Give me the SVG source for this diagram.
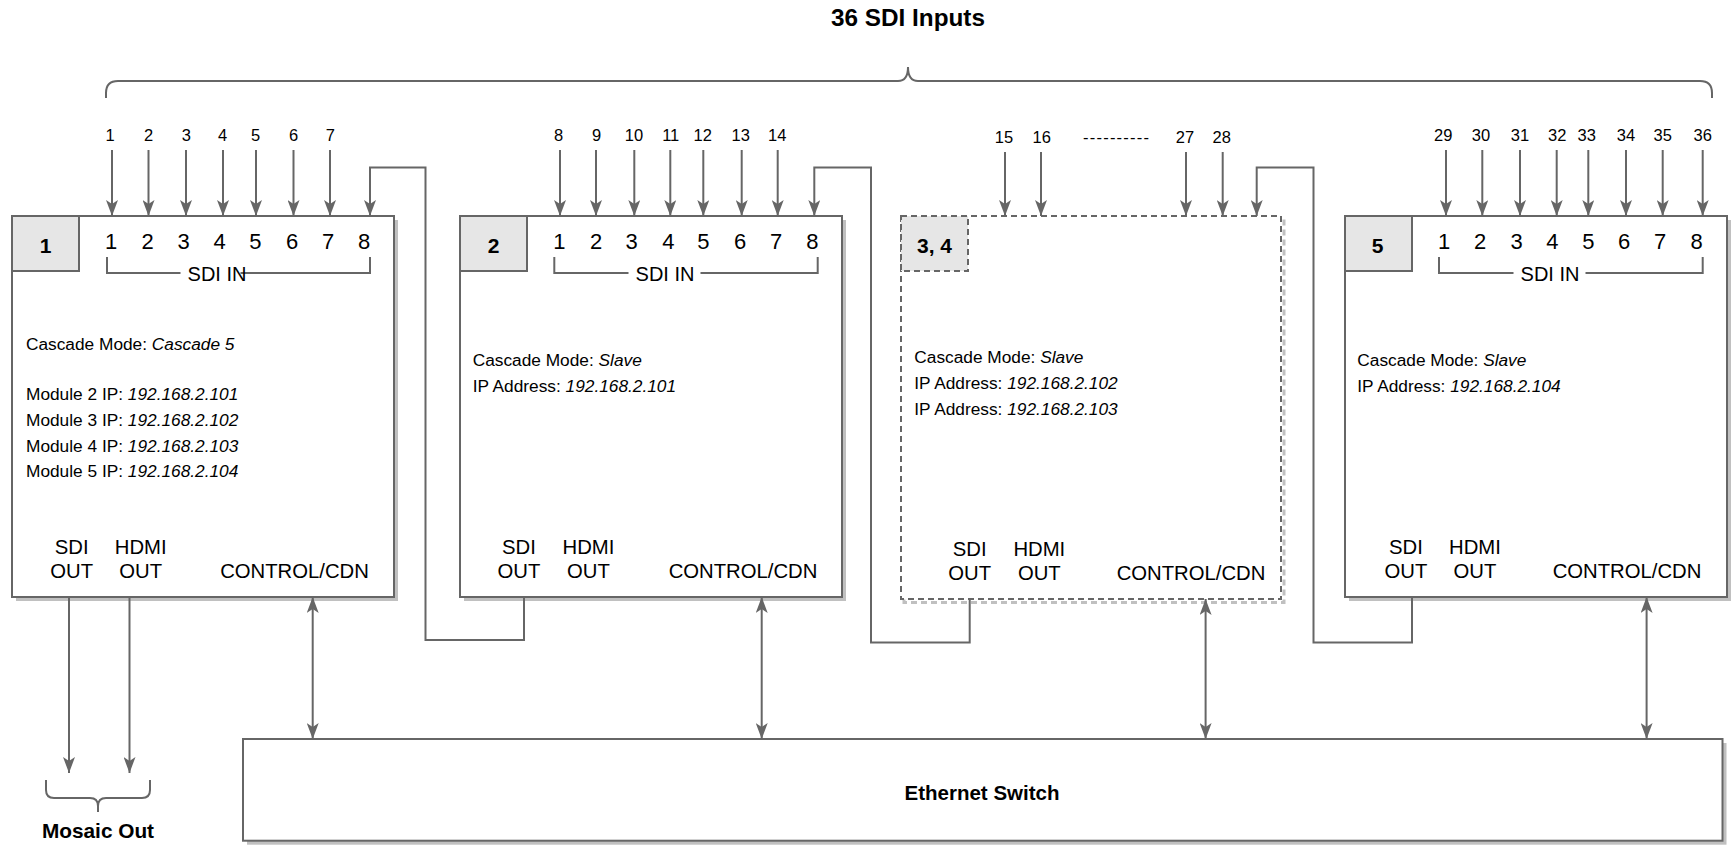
<svg xmlns="http://www.w3.org/2000/svg" width="1731" height="847" viewBox="0 0 1731 847">
<style>
text{font-family:"Liberation Sans",Arial,sans-serif;fill:#000}
.t16{font-size:16.5px;text-anchor:middle}
.port{font-size:22px;text-anchor:middle}
.sdiin{font-size:20px;text-anchor:middle}
.body{font-size:17.3px}
.body tspan.i{font-style:italic}
.lbl{font-size:20.3px;text-anchor:middle}
.num{font-size:21px;font-weight:bold;text-anchor:middle}
.bold{font-weight:bold;text-anchor:middle}
.box{fill:#fff;stroke:#666;stroke-width:2}
.dbox{fill:none;stroke:#666;stroke-width:2;stroke-dasharray:6 4}
.shadow{fill:#c0c0c0}
.dshadow{fill:none;stroke:#c0c0c0;stroke-width:3;stroke-dasharray:6 4}
.tag{fill:#e6e6e6;stroke:#666;stroke-width:2}
.dtag{fill:#e6e6e6;stroke:#666;stroke-width:2;stroke-dasharray:6 4}
.ln{fill:none;stroke:#666;stroke-width:2}
.arr{fill:none;stroke:#666;stroke-width:2;marker-end:url(#ah)}
.darr{fill:none;stroke:#666;stroke-width:2;marker-end:url(#ah);marker-start:url(#ah)}
</style>
<defs>
<marker id="ah" viewBox="0 0 16 12" refX="16" refY="6" markerWidth="16" markerHeight="12" markerUnits="userSpaceOnUse" orient="auto-start-reverse">
<path d="M0,0 L16,6 L0,12 L4,6 z" fill="#666"/>
</marker>
</defs>

<g id="title">
<text x="908" y="26" class="bold" font-size="24.3">36 SDI Inputs</text>
<path class="ln" d="M106,98 V93 Q106,81 118,81 H898 Q908,81 908,67 Q908,81 918,81 H1700 Q1712,81 1712,93 V98"/>
</g>

<g id="input-labels">
<text class="t16" x="110" y="141">1</text>
<text class="t16" x="148.5" y="141">2</text>
<text class="t16" x="186.4" y="141">3</text>
<text class="t16" x="222.7" y="141">4</text>
<text class="t16" x="255.6" y="141">5</text>
<text class="t16" x="293.5" y="141">6</text>
<text class="t16" x="330.3" y="141">7</text>
<text class="t16" x="558.7" y="141">8</text>
<text class="t16" x="596.7" y="141">9</text>
<text class="t16" x="634" y="141">10</text>
<text class="t16" x="670.7" y="141">11</text>
<text class="t16" x="702.7" y="141">12</text>
<text class="t16" x="740.7" y="141">13</text>
<text class="t16" x="777.3" y="141">14</text>
<text class="t16" x="1004" y="143">15</text>
<text class="t16" x="1041.7" y="143">16</text>
<text class="t16" x="1116" y="143" textLength="66" lengthAdjust="spacing">----------</text>
<text class="t16" x="1185" y="143">27</text>
<text class="t16" x="1221.7" y="143">28</text>
<text class="t16" x="1443.3" y="141">29</text>
<text class="t16" x="1481" y="141">30</text>
<text class="t16" x="1520" y="141">31</text>
<text class="t16" x="1557.3" y="141">32</text>
<text class="t16" x="1586.7" y="141">33</text>
<text class="t16" x="1626" y="141">34</text>
<text class="t16" x="1662.7" y="141">35</text>
<text class="t16" x="1702.7" y="141">36</text>
</g>

<g id="module-1">
<rect class="shadow" x="16" y="220" width="382" height="381"/>
<rect class="box" x="12" y="216" width="382" height="381"/>
<rect class="tag" x="12" y="216" width="67" height="55"/>
<text class="num" x="45.5" y="253">1</text>
<text class="port" x="111" y="249">1</text>
<text class="port" x="147.5" y="249">2</text>
<text class="port" x="183.7" y="249">3</text>
<text class="port" x="219.5" y="249">4</text>
<text class="port" x="255.3" y="249">5</text>
<text class="port" x="292" y="249">6</text>
<text class="port" x="328" y="249">7</text>
<text class="port" x="364" y="249">8</text>
<path class="ln" d="M180.5,273 H107 V257 M240.5,273 H370 V257"/>
<text class="sdiin" x="217" y="281">SDI IN</text>
<text class="body" x="26" y="350">Cascade Mode: <tspan class="i">Cascade 5</tspan></text>
<text class="body" x="26" y="400">Module 2 IP: <tspan class="i">192.168.2.101</tspan></text>
<text class="body" x="26" y="426">Module 3 IP: <tspan class="i">192.168.2.102</tspan></text>
<text class="body" x="26" y="451.5">Module 4 IP: <tspan class="i">192.168.2.103</tspan></text>
<text class="body" x="26" y="477">Module 5 IP: <tspan class="i">192.168.2.104</tspan></text>
<text class="lbl" x="71.7" y="554">SDI</text>
<text class="lbl" x="71.7" y="578">OUT</text>
<text class="lbl" x="140.7" y="554">HDMI</text>
<text class="lbl" x="140.7" y="578">OUT</text>
<text class="lbl" x="294.5" y="578">CONTROL/CDN</text>
</g>

<g id="module-2">
<rect class="shadow" x="464" y="220" width="382" height="381"/>
<rect class="box" x="460" y="216" width="382" height="381"/>
<rect class="tag" x="460" y="216" width="67" height="55"/>
<text class="num" x="493.5" y="253">2</text>
<text class="port" x="559.3" y="249">1</text>
<text class="port" x="596" y="249">2</text>
<text class="port" x="631.7" y="249">3</text>
<text class="port" x="668.3" y="249">4</text>
<text class="port" x="703.3" y="249">5</text>
<text class="port" x="740" y="249">6</text>
<text class="port" x="776" y="249">7</text>
<text class="port" x="812.3" y="249">8</text>
<path class="ln" d="M628.5,273 H554.3 V257 M700.5,273 H817.7 V257"/>
<text class="sdiin" x="665" y="281">SDI IN</text>
<text class="body" x="472.7" y="365.7">Cascade Mode: <tspan class="i">Slave</tspan></text>
<text class="body" x="472.7" y="391.7">IP Address: <tspan class="i">192.168.2.101</tspan></text>
<text class="lbl" x="519" y="554">SDI</text>
<text class="lbl" x="519" y="578">OUT</text>
<text class="lbl" x="588.4" y="554">HDMI</text>
<text class="lbl" x="588.4" y="578">OUT</text>
<text class="lbl" x="743" y="578">CONTROL/CDN</text>
</g>

<g id="module-3-4">
<rect class="dshadow" x="904" y="219.5" width="380" height="383"/>
<rect fill="#fff" x="901" y="216" width="380" height="383"/>
<rect class="dbox" x="901" y="216" width="380" height="383"/>
<rect class="dtag" x="901" y="216" width="67" height="55"/>
<text class="num" x="934.5" y="253">3, 4</text>
<text class="body" x="914.3" y="363.3">Cascade Mode: <tspan class="i">Slave</tspan></text>
<text class="body" x="914.3" y="389.3">IP Address: <tspan class="i">192.168.2.102</tspan></text>
<text class="body" x="914.3" y="415">IP Address: <tspan class="i">192.168.2.103</tspan></text>
<text class="lbl" x="969.7" y="556">SDI</text>
<text class="lbl" x="969.7" y="580">OUT</text>
<text class="lbl" x="1039.3" y="556">HDMI</text>
<text class="lbl" x="1039.3" y="580">OUT</text>
<text class="lbl" x="1191" y="580">CONTROL/CDN</text>
</g>

<g id="module-5">
<rect class="shadow" x="1349" y="220" width="382" height="381"/>
<rect class="box" x="1345" y="216" width="382" height="381"/>
<rect class="tag" x="1345" y="216" width="67" height="55"/>
<text class="num" x="1377.5" y="253">5</text>
<text class="port" x="1444" y="249">1</text>
<text class="port" x="1480" y="249">2</text>
<text class="port" x="1516.7" y="249">3</text>
<text class="port" x="1552.3" y="249">4</text>
<text class="port" x="1588.3" y="249">5</text>
<text class="port" x="1624" y="249">6</text>
<text class="port" x="1660" y="249">7</text>
<text class="port" x="1696.7" y="249">8</text>
<path class="ln" d="M1513.5,273 H1439 V257 M1585.5,273 H1702.7 V257"/>
<text class="sdiin" x="1550" y="281">SDI IN</text>
<text class="body" x="1357.3" y="366">Cascade Mode: <tspan class="i">Slave</tspan></text>
<text class="body" x="1357.3" y="391.7">IP Address: <tspan class="i">192.168.2.104</tspan></text>
<text class="lbl" x="1406" y="554">SDI</text>
<text class="lbl" x="1406" y="578">OUT</text>
<text class="lbl" x="1475" y="554">HDMI</text>
<text class="lbl" x="1475" y="578">OUT</text>
<text class="lbl" x="1627" y="578">CONTROL/CDN</text>
</g>

<g id="ethernet-switch">
<rect class="shadow" x="247" y="743" width="1479.5" height="101.7"/>
<rect class="box" x="243" y="739" width="1479.5" height="101.7"/>
<text class="bold" x="982" y="800" font-size="20.5">Ethernet Switch</text>
</g>

<g id="mosaic-out">
<path class="ln" d="M46,780 V790 Q46,798 54,798 H90 Q98,798 98,806 V812 M98,806 Q98,798 106,798 H142 Q150,798 150,790 V780"/>
<text class="bold" x="98" y="838" font-size="20.8">Mosaic Out</text>
</g>

<g id="connectors">
<line class="arr" x1="112" y1="150" x2="112" y2="216"/>
<line class="arr" x1="148.5" y1="150" x2="148.5" y2="216"/>
<line class="arr" x1="186" y1="150" x2="186" y2="216"/>
<line class="arr" x1="223" y1="150" x2="223" y2="216"/>
<line class="arr" x1="256" y1="150" x2="256" y2="216"/>
<line class="arr" x1="293.5" y1="150" x2="293.5" y2="216"/>
<line class="arr" x1="330" y1="150" x2="330" y2="216"/>
<line class="arr" x1="560" y1="150" x2="560" y2="216"/>
<line class="arr" x1="596" y1="150" x2="596" y2="216"/>
<line class="arr" x1="634.3" y1="150" x2="634.3" y2="216"/>
<line class="arr" x1="670.3" y1="150" x2="670.3" y2="216"/>
<line class="arr" x1="703.3" y1="150" x2="703.3" y2="216"/>
<line class="arr" x1="741.7" y1="150" x2="741.7" y2="216"/>
<line class="arr" x1="777.7" y1="150" x2="777.7" y2="216"/>
<line class="arr" x1="1005" y1="152" x2="1005" y2="216"/>
<line class="arr" x1="1041" y1="152" x2="1041" y2="216"/>
<line class="arr" x1="1186" y1="152" x2="1186" y2="216"/>
<line class="arr" x1="1222.7" y1="152" x2="1222.7" y2="216"/>
<line class="arr" x1="1446" y1="150" x2="1446" y2="216"/>
<line class="arr" x1="1482.3" y1="150" x2="1482.3" y2="216"/>
<line class="arr" x1="1520" y1="150" x2="1520" y2="216"/>
<line class="arr" x1="1556.7" y1="150" x2="1556.7" y2="216"/>
<line class="arr" x1="1588.3" y1="150" x2="1588.3" y2="216"/>
<line class="arr" x1="1626" y1="150" x2="1626" y2="216"/>
<line class="arr" x1="1662.7" y1="150" x2="1662.7" y2="216"/>
<line class="arr" x1="1702.7" y1="150" x2="1702.7" y2="216"/>
<path class="arr" d="M524,597 V640 H425.5 V167.5 H370 V216"/>
<path class="arr" d="M969.7,599 V642.5 H871 V167.5 H814.3 V216"/>
<path class="arr" d="M1412,597 V642.5 H1313.5 V167.5 H1256.7 V216"/>
<line class="arr" x1="69" y1="597" x2="69" y2="773"/>
<line class="arr" x1="129.5" y1="597" x2="129.5" y2="773"/>
<line class="darr" x1="312.7" y1="597" x2="312.7" y2="739"/>
<line class="darr" x1="761.7" y1="597" x2="761.7" y2="739"/>
<line class="darr" x1="1205.6" y1="599" x2="1205.6" y2="739"/>
<line class="darr" x1="1646.6" y1="597" x2="1646.6" y2="739"/>
</g>
</svg>
